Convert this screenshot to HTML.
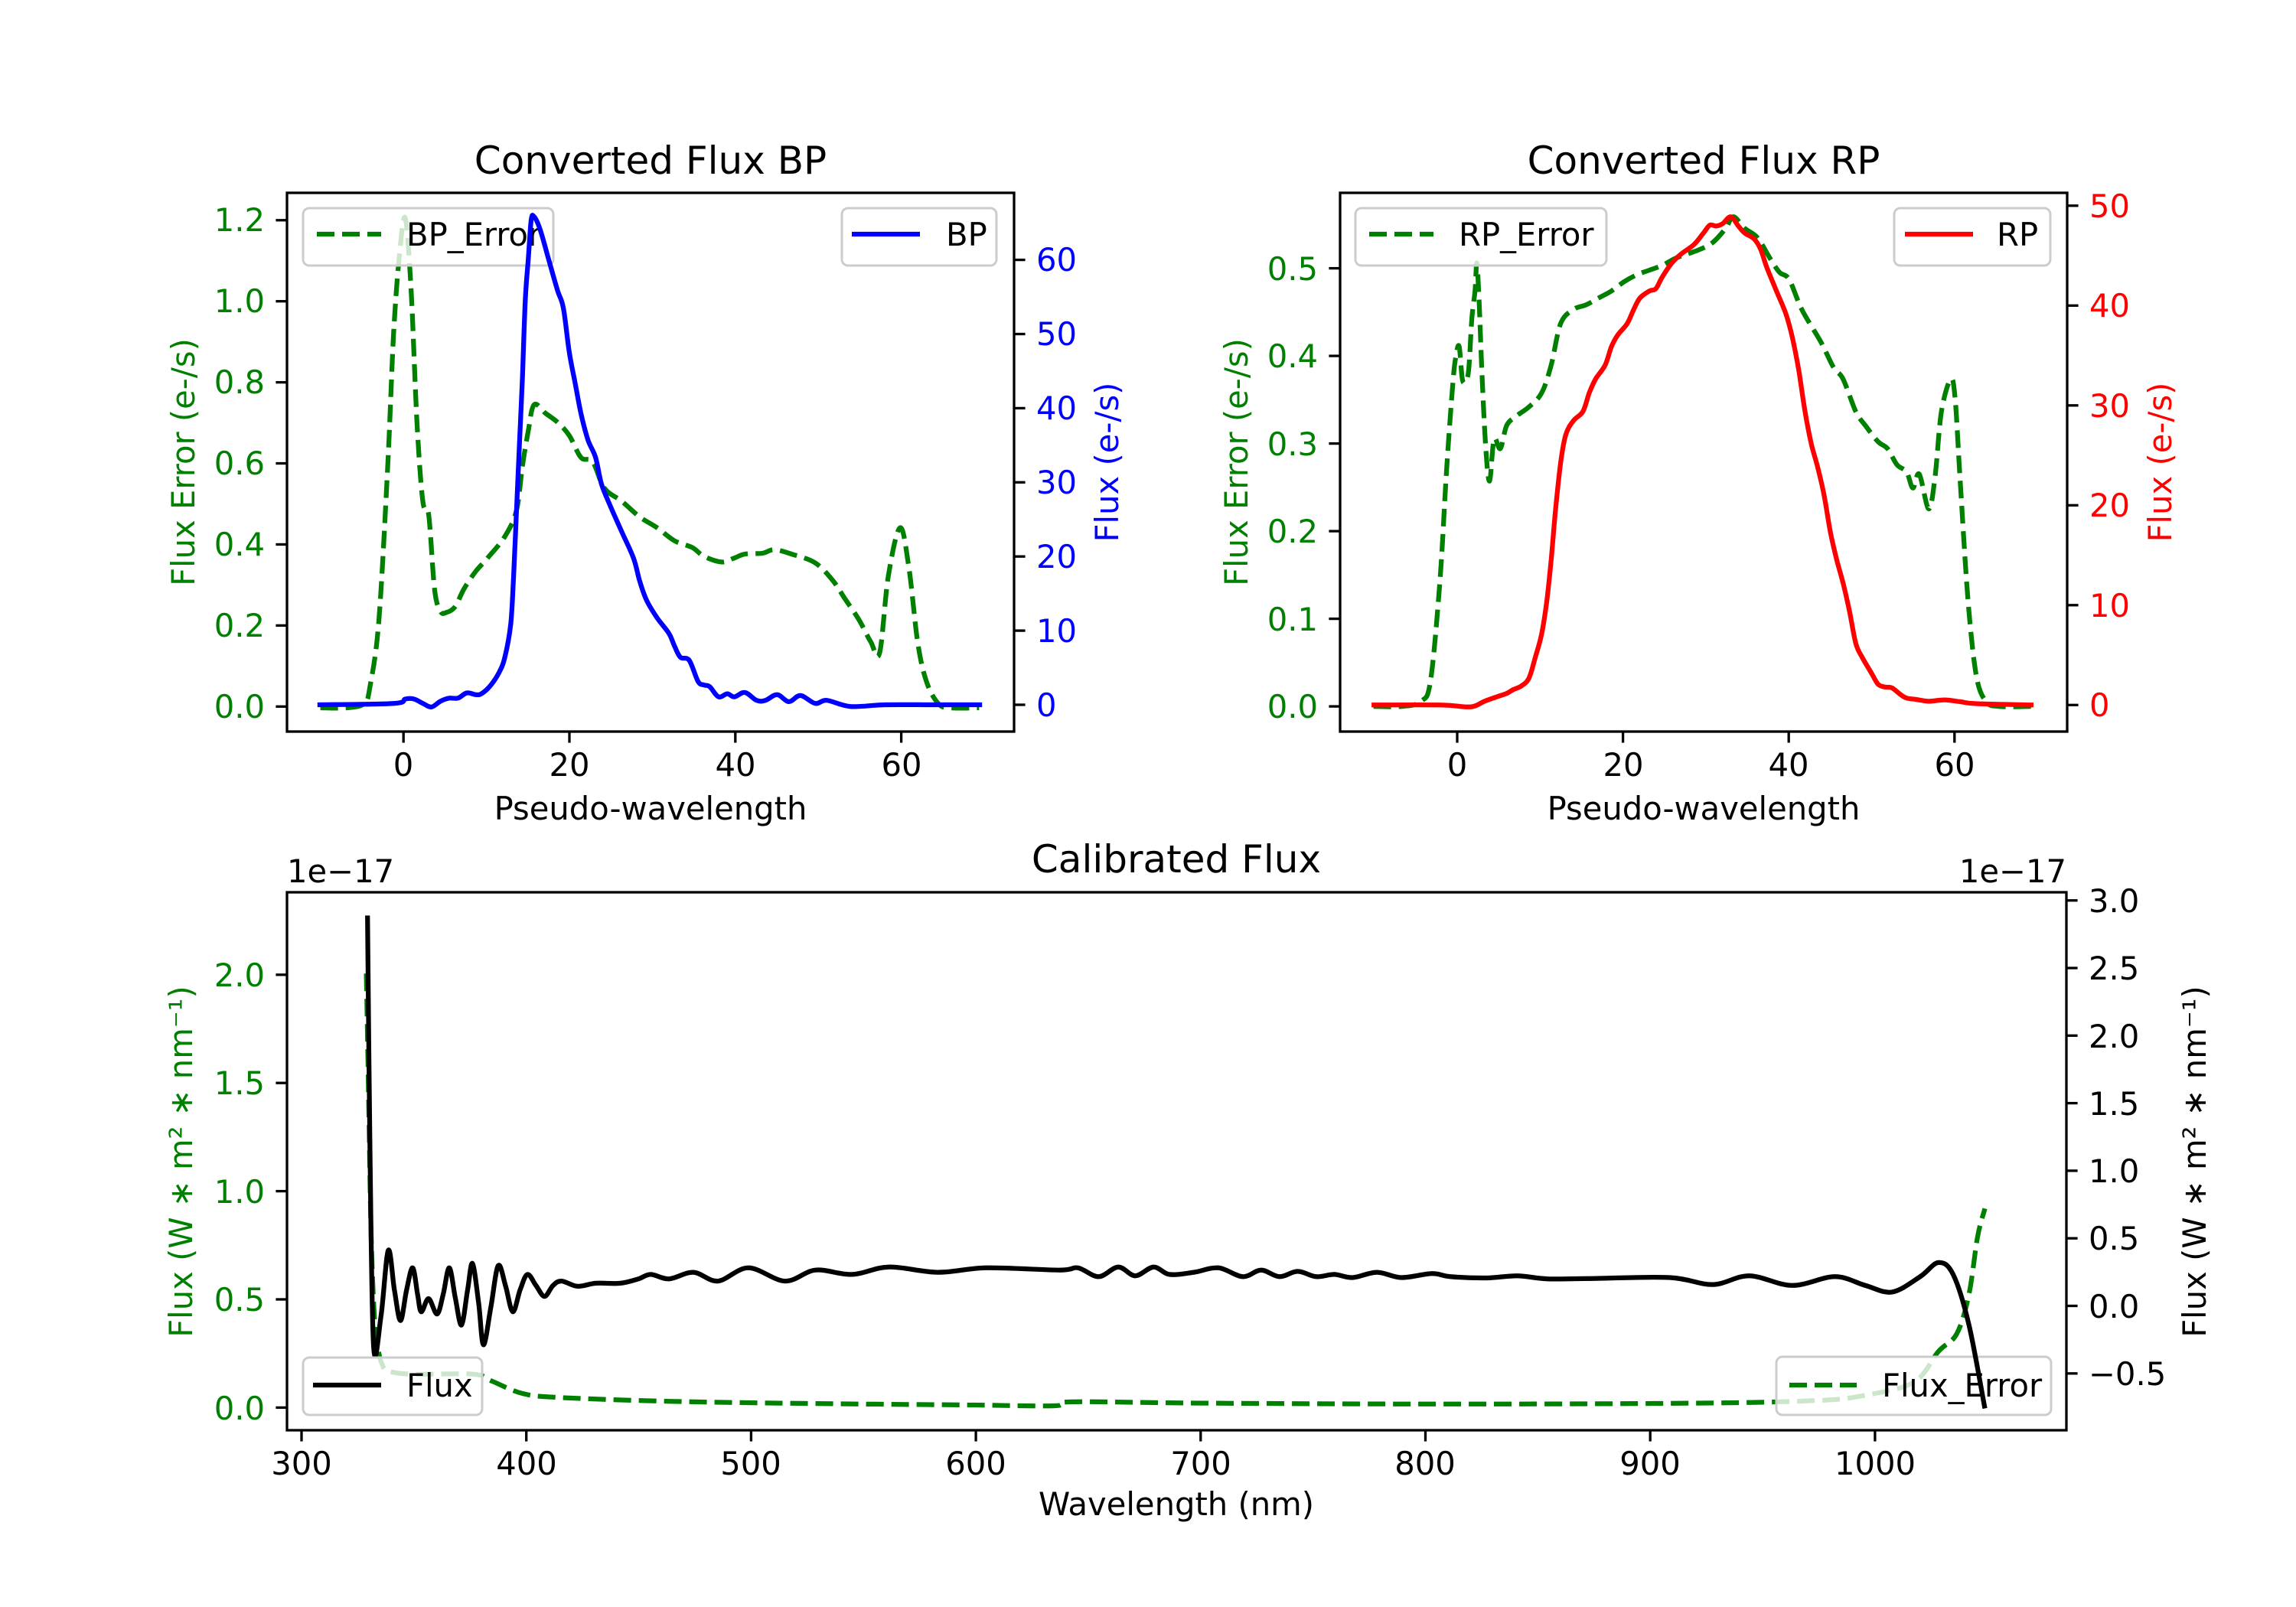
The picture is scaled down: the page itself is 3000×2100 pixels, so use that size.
<!DOCTYPE html>
<html><head><meta charset="utf-8"><style>
html,body{margin:0;padding:0;background:#fff;}
svg{display:block;font-family:"DejaVu Sans","Liberation Sans",sans-serif;}
.t{font-size:41.7px;}
.ti{font-size:50px;}
</style></head><body>
<svg id="s" width="3000" height="2100" viewBox="0 0 3000 2100" xmlns="http://www.w3.org/2000/svg">
<rect width="3000" height="2100" fill="#fff"/>
<defs>
<clipPath id="cBP"><rect x="375" y="252" width="950" height="704"/></clipPath>
<clipPath id="cRP"><rect x="1751" y="252" width="950" height="704"/></clipPath>
<clipPath id="cC"><rect x="375" y="1166" width="2325" height="703"/></clipPath>
</defs>

<!-- BP -->
<g id="bpg" clip-path="url(#cBP)"></g>
<rect x="396" y="272" width="327" height="75" rx="8" fill="#fff" fill-opacity="0.8" stroke="#ccc" stroke-width="3"/>
<line x1="414" y1="306" x2="498" y2="306" stroke="#008000" stroke-width="6.25" stroke-dasharray="23,10"/>
<text class="t" x="531" y="321">BP_Error</text>
<g id="bpb" clip-path="url(#cBP)"></g>
<rect x="1100" y="272" width="202" height="75" rx="8" fill="#fff" fill-opacity="0.8" stroke="#ccc" stroke-width="3"/>
<line x1="1113" y1="306" x2="1202" y2="306" stroke="#0000ff" stroke-width="6.25"/>
<text class="t" x="1236" y="321">BP</text>
<rect x="375" y="252" width="950" height="704" fill="none" stroke="#000" stroke-width="3.3"/>
<text class="ti" x="850" y="227" text-anchor="middle">Converted Flux BP</text>
<g class="t" fill="#008000" text-anchor="end">
<text x="346" y="938">0.0</text><text x="346" y="832">0.2</text><text x="346" y="726">0.4</text><text x="346" y="620">0.6</text><text x="346" y="514">0.8</text><text x="346" y="408">1.0</text><text x="346" y="302">1.2</text>
</g>
<g class="t" fill="#0000ff">
<text x="1354" y="936">0</text><text x="1354" y="839">10</text><text x="1354" y="742">20</text><text x="1354" y="645">30</text><text x="1354" y="548">40</text><text x="1354" y="451">50</text><text x="1354" y="354">60</text>
</g>
<g class="t" text-anchor="middle">
<text x="527" y="1014">0</text><text x="744" y="1014">20</text><text x="961" y="1014">40</text><text x="1178" y="1014">60</text>
</g>
<text class="t" x="850" y="1071" text-anchor="middle">Pseudo-wavelength</text>
<text class="t" fill="#008000" text-anchor="middle" transform="translate(254,604) rotate(-90)">Flux Error (e-/s)</text>
<text class="t" fill="#0000ff" text-anchor="middle" transform="translate(1461,604) rotate(-90)">Flux (e-/s)</text>

<!-- RP -->
<g id="rpg" clip-path="url(#cRP)"></g>
<rect x="1771" y="272" width="328" height="75" rx="8" fill="#fff" fill-opacity="0.8" stroke="#ccc" stroke-width="3"/>
<line x1="1789" y1="306" x2="1873" y2="306" stroke="#008000" stroke-width="6.25" stroke-dasharray="23,10"/>
<text class="t" x="1906" y="321">RP_Error</text>
<g id="rpr" clip-path="url(#cRP)"></g>
<rect x="2475" y="272" width="204" height="75" rx="8" fill="#fff" fill-opacity="0.8" stroke="#ccc" stroke-width="3"/>
<line x1="2489" y1="306" x2="2578" y2="306" stroke="#ff0000" stroke-width="6.25"/>
<text class="t" x="2609" y="321">RP</text>
<rect x="1751" y="252" width="950" height="704" fill="none" stroke="#000" stroke-width="3.3"/>
<text class="ti" x="2226" y="227" text-anchor="middle">Converted Flux RP</text>
<g class="t" fill="#008000" text-anchor="end">
<text x="1722" y="938">0.0</text><text x="1722" y="824">0.1</text><text x="1722" y="709">0.2</text><text x="1722" y="595">0.3</text><text x="1722" y="480">0.4</text><text x="1722" y="366">0.5</text>
</g>
<g class="t" fill="#ff0000">
<text x="2730" y="936">0</text><text x="2730" y="806">10</text><text x="2730" y="675">20</text><text x="2730" y="545">30</text><text x="2730" y="414">40</text><text x="2730" y="284">50</text>
</g>
<g class="t" text-anchor="middle">
<text x="1904" y="1014">0</text><text x="2121" y="1014">20</text><text x="2337" y="1014">40</text><text x="2554" y="1014">60</text>
</g>
<text class="t" x="2226" y="1071" text-anchor="middle">Pseudo-wavelength</text>
<text class="t" fill="#008000" text-anchor="middle" transform="translate(1630,604) rotate(-90)">Flux Error (e-/s)</text>
<text class="t" fill="#ff0000" text-anchor="middle" transform="translate(2837,604) rotate(-90)">Flux (e-/s)</text>

<!-- Calibrated -->
<g id="cg" clip-path="url(#cC)"></g>
<rect x="2321" y="1773" width="359" height="76" rx="8" fill="#fff" fill-opacity="0.8" stroke="#ccc" stroke-width="3"/>
<line x1="2338" y1="1810" x2="2426" y2="1810" stroke="#008000" stroke-width="6.25" stroke-dasharray="23,10"/>
<text class="t" x="2459" y="1825">Flux_Error</text>
<g id="ck" clip-path="url(#cC)"></g>
<rect x="396" y="1774" width="234" height="75" rx="8" fill="#fff" fill-opacity="0.8" stroke="#ccc" stroke-width="3"/>
<line x1="409" y1="1810" x2="498" y2="1810" stroke="#000" stroke-width="6.25"/>
<text class="t" x="531" y="1825">Flux</text>
<rect x="375" y="1166" width="2325" height="703" fill="none" stroke="#000" stroke-width="3.3"/>
<text class="ti" x="1537" y="1140" text-anchor="middle">Calibrated Flux</text>
<text class="t" x="375" y="1153">1e−17</text>
<text class="t" x="2700" y="1153" text-anchor="end">1e−17</text>
<g class="t" fill="#008000" text-anchor="end">
<text x="346" y="1855">0.0</text><text x="346" y="1713">0.5</text><text x="346" y="1572">1.0</text><text x="346" y="1430">1.5</text><text x="346" y="1289">2.0</text>
</g>
<g class="t">
<text x="2729" y="1810">−0.5</text><text x="2729" y="1722">0.0</text><text x="2729" y="1633">0.5</text><text x="2729" y="1545">1.0</text><text x="2729" y="1457">1.5</text><text x="2729" y="1369">2.0</text><text x="2729" y="1280">2.5</text><text x="2729" y="1192">3.0</text>
</g>
<g class="t" text-anchor="middle">
<text x="394" y="1927">300</text><text x="688" y="1927">400</text><text x="981" y="1927">500</text><text x="1275" y="1927">600</text><text x="1569" y="1927">700</text><text x="1862" y="1927">800</text><text x="2156" y="1927">900</text><text x="2450" y="1927">1000</text>
</g>
<text class="t" x="1537" y="1980" text-anchor="middle">Wavelength (nm)</text>
<text class="t" fill="#008000" text-anchor="middle" transform="translate(251,1518) rotate(-90)">Flux (W ∗ m² ∗ nm⁻¹)</text>
<text class="t" text-anchor="middle" transform="translate(2882,1518) rotate(-90)">Flux (W ∗ m² ∗ nm⁻¹)</text>

<g id="ticks" stroke="#000" stroke-width="3.3"></g>
</svg>
<script>
(function(){
var NS="http://www.w3.org/2000/svg";
function cr(p){
  var d="M"+p[0][0].toFixed(1)+","+p[0][1].toFixed(1);
  for(var i=0;i<p.length-1;i++){
    var p0=p[i-1]||p[i],p1=p[i],p2=p[i+1],p3=p[i+2]||p2;
    var c1x=p1[0]+(p2[0]-p0[0])/6,c1y=p1[1]+(p2[1]-p0[1])/6;
    var c2x=p2[0]-(p3[0]-p1[0])/6,c2y=p2[1]-(p3[1]-p1[1])/6;
    d+="C"+c1x.toFixed(1)+","+c1y.toFixed(1)+" "+c2x.toFixed(1)+","+c2y.toFixed(1)+" "+p2[0].toFixed(1)+","+p2[1].toFixed(1);
  }
  return d;
}
function add(g,arr,sx,ox,sy,oy,col,dash){
  var p=[];for(var i=0;i<arr.length;i+=2)p.push([arr[i]/sx+ox,arr[i+1]/sy+oy]);
  var e=document.createElementNS(NS,"path");
  e.setAttribute("d",cr(p));e.setAttribute("fill","none");e.setAttribute("stroke",col);
  e.setAttribute("stroke-width","6.25");e.setAttribute("stroke-linejoin","round");
  if(dash)e.setAttribute("stroke-dasharray","23,10");
  document.getElementById(g).appendChild(e);
}
var bpErr=[155,1350,200,1350,230,1340,240,1300,255,1150,270,800,280,500,290,320,300,235,310,400,320,700,330,880,340,910,350,1080,360,1130,370,1133,385,1120,400,1080,420,1040,440,1010,470,960,490,900,500,800,510,720,520,660,540,680,560,700,580,730,600,780,620,790,640,850,670,880,700,915,730,940,760,970,790,985,810,1005,840,1018,860,1010,880,1000,910,998,930,990,960,1000,1000,1020,1030,1060,1050,1100,1075,1150,1095,1200,1110,1225,1125,1050,1145,940,1160,1030,1175,1200,1190,1290,1210,1340,1230,1350,1280,1350];
var bp=[150,1343,280,1340,300,1330,315,1330,330,1340,345,1348,360,1335,375,1328,390,1328,405,1316,420,1320,430,1318,445,1300,460,1270,470,1235,480,1160,485,1050,490,900,495,750,500,600,505,420,510,330,515,240,520,232,530,260,545,330,560,400,570,440,580,540,590,610,600,680,612,740,625,780,635,840,650,890,670,950,690,1010,700,1060,712,1105,730,1145,750,1180,760,1210,770,1235,785,1242,800,1290,810,1298,820,1302,835,1325,850,1318,862,1325,880,1315,900,1333,915,1333,935,1320,955,1336,975,1322,1000,1340,1020,1333,1060,1347,1120,1343,1200,1343,1285,1343];
add("bpg",bpErr,1.307,300,1.742,150,"#008000",1);
add("bpb",bp,1.307,300,1.742,150,"#0000ff",0);
var rpErr=[295,1276,340,1276,370,1265,385,1220,400,1000,410,770,420,580,425,520,430,500,435,570,440,575,445,550,450,440,455,380,458,320,462,420,466,560,472,720,478,790,485,700,495,720,505,670,520,650,540,630,560,600,575,540,590,450,610,420,630,410,650,395,670,380,690,360,710,345,730,335,750,325,770,310,790,300,810,290,830,275,850,245,862,220,880,245,900,265,920,310,935,340,950,355,970,420,1000,490,1020,545,1035,570,1055,640,1070,670,1090,705,1105,720,1120,755,1135,770,1145,805,1155,775,1170,850,1180,780,1190,640,1205,570,1212,620,1220,800,1232,1050,1245,1210,1260,1265,1280,1276,1335,1276];
var rp=[292,1273,400,1273,440,1277,455,1275,470,1265,490,1255,505,1248,515,1240,528,1232,540,1215,550,1170,560,1120,568,1050,575,960,582,850,590,750,598,690,610,660,625,640,635,600,645,570,660,540,670,500,680,475,695,450,705,420,715,395,730,380,740,375,750,350,765,320,780,300,800,280,815,255,825,238,835,240,845,235,858,220,870,240,880,255,895,268,905,290,915,330,930,380,945,430,955,480,965,550,975,640,985,710,995,760,1005,820,1015,900,1025,960,1035,1010,1045,1070,1055,1140,1065,1170,1080,1205,1090,1228,1100,1234,1112,1236,1125,1250,1135,1258,1150,1261,1170,1265,1195,1262,1220,1266,1245,1270,1335,1273];
add("rpg",rpErr,1.206,1550,1.6505,150,"#008000",1);
add("rpr",rp,1.206,1550,1.6505,150,"#ff0000",0);
var cErr=[112,300,114,600,116,900,119,1100,122,1160,125,1190,130,1205,150,1212,200,1212,215,1228,240,1256,270,1265,350,1273,450,1278,600,1282,675,1284,690,1275,800,1278,1000,1280,1200,1278,1300,1272,1340,1260,1380,1230,1400,1160,1415,1120,1425,1030,1432,900,1438,835];
var cF=[113,168,115,700,118,1150,124,1080,130,930,135,1020,140,1090,145,1020,150,970,154,1030,157,1070,163,1040,170,1075,175,1030,180,970,185,1040,190,1100,195,1020,199,960,204,1050,208,1145,214,1060,220,965,226,1010,232,1070,238,1020,244,985,251,1010,258,1035,265,1010,272,1000,285,1012,300,1005,320,1005,335,995,345,985,360,995,380,980,400,1000,425,970,455,1000,480,975,510,985,540,968,580,980,620,970,680,975,695,970,712,990,728,968,742,988,757,968,770,985,790,980,810,970,830,990,845,975,860,990,875,978,890,990,905,985,920,992,940,980,960,992,985,983,1000,990,1030,993,1055,988,1080,995,1120,994,1180,992,1215,1008,1245,988,1280,1010,1315,990,1340,1010,1362,1025,1385,990,1400,958,1412,985,1425,1100,1438,1290];
add("cg",cErr,0.627,300,1.742,1100,"#008000",1);
add("ck",cF,0.627,300,1.742,1100,"#000",0);
var t=document.getElementById("ticks"),L=14.6;
function tk(x1,y1,x2,y2){var e=document.createElementNS(NS,"line");e.setAttribute("x1",x1);e.setAttribute("y1",y1);e.setAttribute("x2",x2);e.setAttribute("y2",y2);t.appendChild(e);}
var i;
for(i=0;i<=6;i++){var y=923.3-i*0.2*529.6;tk(375,y,375-L,y);}
for(i=0;i<=6;i++){var y=921-i*96.9;tk(1325,y,1325+L,y);}
for(i=0;i<4;i++){var x=527.2+i*20*10.84;tk(x,956,x,956+L);}
for(i=0;i<=5;i++){var y=923.1-i*114.5;tk(1751,y,1751-L,y);}
for(i=0;i<=5;i++){var y=921.3-i*130.5;tk(2701,y,2701+L,y);}
for(i=0;i<4;i++){var x=1904+i*20*10.83;tk(x,956,x,956+L);}
for(i=0;i<8;i++){var x=394+i*293.7;tk(x,1869,x,1869+L);}
for(i=0;i<=4;i++){var y=1839.4-i*141.4;tk(375,y,375-L,y);}
for(i=-1;i<=6;i++){var y=1706.5-i*88.3;tk(2700,y,2700+L,y);}
})();
</script>
</body></html>
